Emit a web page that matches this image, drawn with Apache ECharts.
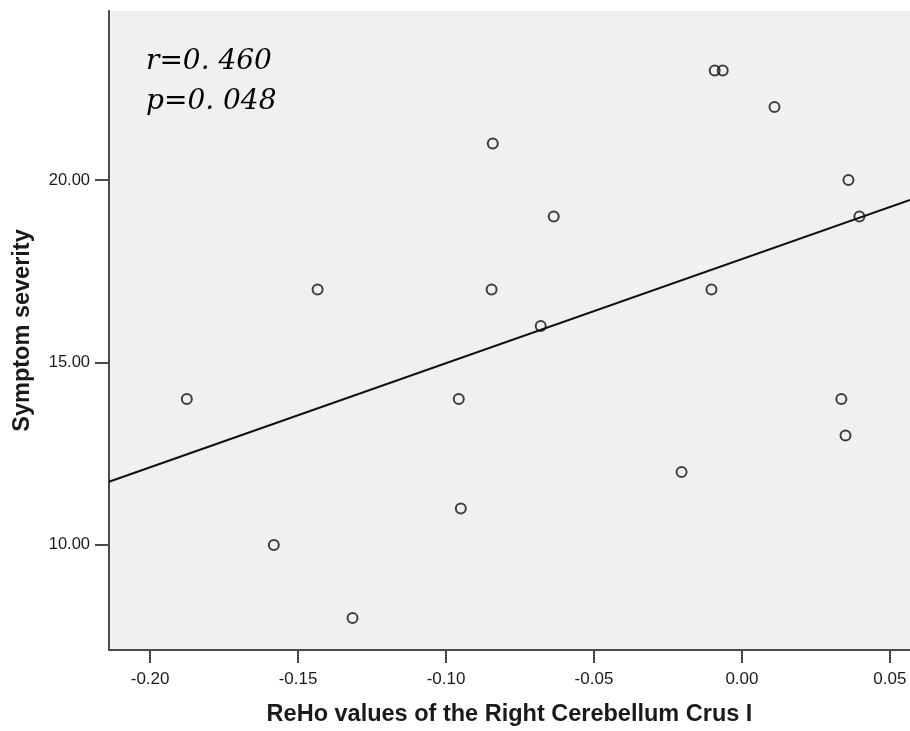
<!DOCTYPE html>
<html>
<head>
<meta charset="utf-8">
<script src="https://cdn.jsdelivr.net/npm/echarts@6/dist/echarts.min.js"></script>
<style>
  html, body { margin: 0; padding: 0; background: #fff; }
  #chart { width: 910px; height: 731px; }
</style>
</head>
<body>
<div id="chart"></div>
<script>
// ReHo values (x) and symptom severity (y)
const rehoValues = [-0.1876, -0.1582, -0.1434, -0.1316, -0.0950, -0.0957, -0.0842, -0.0846, -0.0680, -0.0636,
  -0.0204, -0.0103, -0.0092, -0.0065, 0.0110, 0.0360, 0.0397, 0.0336, 0.0350]
const severity = [14, 10, 17, 8, 11, 14, 21, 17, 16, 19, 12, 17, 23, 23, 22, 20, 19, 14, 13]

// fit line end points as drawn
const fitX = [-0.2139, 0.0568]
const fitY = [11.73, 19.45]

const xTicks = [-0.20, -0.15, -0.10, -0.05, 0.00, 0.05]
const yTicks = [10, 15, 20]

const myChart = echarts.init(document.getElementById('chart'))

const statFont = 'italic 28px "DejaVu Serif", "Liberation Serif", serif'
const titleStyle = { fontFamily: 'Liberation Sans, Arial, sans-serif', fontSize: 23.5, fontWeight: 'bold', color: '#1a1a1a' }

const option = {
  animation: false,
  backgroundColor: '#fff',
  graphic: [
    { type: 'text', left: 146, top: 48, style: { text: 'r=0. 460', font: statFont, fill: '#000' } },
    { type: 'text', left: 146, top: 88, style: { text: 'p=0. 048', font: statFont, fill: '#000' } }
  ],
  grid: {
    left: 109,
    top: 11,
    right: 0,
    bottom: 81,
    outerBoundsMode: 'none',
    show: true,
    backgroundColor: '#f0f0f0',
    borderWidth: 0
  },
  xAxis: {
    type: 'value',
    min: -0.2139,
    max: 0.0568,
    name: 'ReHo values of the Right Cerebellum Crus I',
    nameLocation: 'middle',
    nameGap: 53,
    nameTextStyle: titleStyle,
    axisLine: { show: true, onZero: false, lineStyle: { color: '#4a4a4a', width: 2 } },
    axisTick: { show: true, length: 13, customValues: xTicks, lineStyle: { color: '#4a4a4a', width: 2 } },
    axisLabel: {
      customValues: xTicks,
      margin: 21,
      fontFamily: 'Liberation Sans, Arial, sans-serif',
      fontSize: 17,
      color: '#1a1a1a',
      formatter: v => v.toFixed(2)
    },
    splitLine: { show: false }
  },
  yAxis: {
    type: 'value',
    min: 7.12,
    max: 24.63,
    name: 'Symptom severity',
    nameLocation: 'middle',
    nameGap: 74,
    nameRotate: 90,
    nameTextStyle: titleStyle,
    axisLine: { show: true, onZero: false, lineStyle: { color: '#4a4a4a', width: 2 } },
    axisTick: { show: true, length: 14, customValues: yTicks, lineStyle: { color: '#4a4a4a', width: 2 } },
    axisLabel: {
      customValues: yTicks,
      margin: 19,
      fontFamily: 'Liberation Sans, Arial, sans-serif',
      fontSize: 16.5,
      color: '#1a1a1a',
      formatter: v => v.toFixed(2)
    },
    splitLine: { show: false }
  },
  series: [
    {
      type: 'line',
      data: fitX.map((x, i) => [x, fitY[i]]),
      symbol: 'none',
      lineStyle: { color: '#111', width: 2 },
      z: 2
    },
    {
      type: 'scatter',
      data: rehoValues.map((x, i) => [x, severity[i]]),
      symbol: 'circle',
      symbolSize: 10,
      itemStyle: { color: 'rgba(0,0,0,0)', borderColor: '#111', borderWidth: 2 },
      z: 3
    }
  ]
}

myChart.setOption(option)
</script>
</body>
</html>
